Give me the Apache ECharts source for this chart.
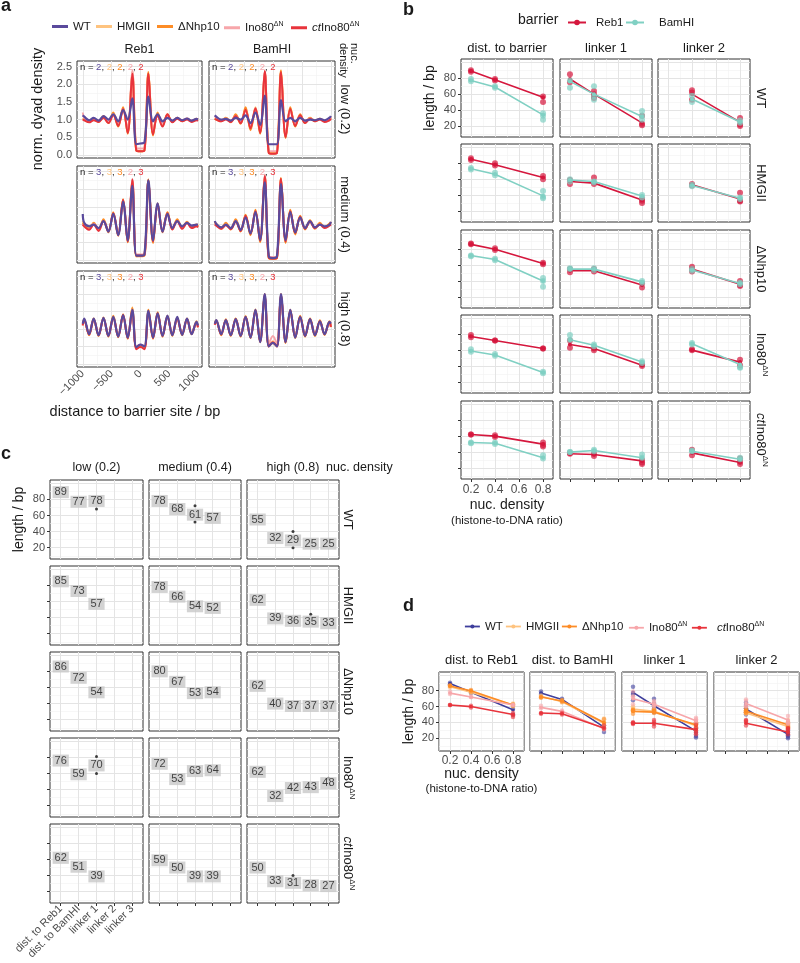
<!DOCTYPE html>
<html>
<head>
<meta charset="utf-8">
<script src="https://cdn.jsdelivr.net/npm/echarts@6/dist/echarts.min.js"></script>
<style>html,body{margin:0;padding:0;background:#fff}#chart{width:800px;height:963px}</style>
</head>
<body>
<div id="chart"></div>
<script>
// ===================== DATA =====================
const genotypes = ['WT', 'HMGII', 'ΔNhp10', 'Ino80ΔN', 'ctIno80ΔN'];

// ---- panel a: dyad density profiles (positions in bp) ----
const aX = [-1000,-975,-890,-810,-725,-640,-555,-470,-385,-300,-220,-140,-70,0,70,140,220,300,385,470,555,640,725,810,890,975,1000];
const aTicksX = [-1000, -500, 0, 500, 1000];
const aTicksY = [0, 0.5, 1, 1.5, 2, 2.5];
// order of inner arrays: WT, HMGII, ΔNhp10, Ino80ΔN, ctIno80ΔN
const aReb1Low = [
  [1.12,1.08,0.98,1.05,0.97,1.10,1.00,1.15,0.95,1.27,1.00,1.60,0.30,0.32,0.35,1.65,0.95,1.15,0.95,1.05,0.97,1.05,0.98,1.03,0.97,1.02,1.00],
  [1.05,1.02,0.95,1.00,0.95,1.08,0.95,1.15,0.85,1.30,0.65,2.25,0.15,0.10,0.15,2.30,0.60,1.15,0.85,1.12,0.95,1.05,0.97,1.02,0.95,1.00,0.98],
  [1.02,1.00,0.93,1.02,0.93,1.10,0.90,1.20,0.80,1.35,0.60,2.35,0.12,0.10,0.12,2.35,0.55,1.20,0.82,1.15,0.93,1.05,0.95,1.02,0.95,1.02,1.00],
  [1.20,1.05,0.97,1.02,0.97,1.08,0.95,1.15,0.90,1.30,0.70,2.40,0.20,0.18,0.20,2.20,0.65,1.10,0.88,1.10,0.96,1.05,0.98,1.03,0.97,1.00,1.00],
  [1.00,0.98,0.92,0.98,0.93,1.05,0.90,1.12,0.82,1.30,0.62,2.30,0.12,0.10,0.12,2.30,0.58,1.12,0.80,1.15,0.92,1.02,0.95,1.00,0.93,0.98,0.96]
];
const aBamLow = [
  [1.12,1.08,1.00,1.02,0.97,1.05,1.00,1.12,0.90,1.20,0.85,1.68,0.30,0.30,0.30,1.55,0.95,1.05,0.95,1.05,0.97,1.00,0.98,1.02,0.98,1.05,1.10],
  [1.05,1.03,0.97,1.05,0.95,1.12,0.90,1.30,0.75,1.35,0.65,2.30,0.08,0.05,0.08,2.35,0.50,1.30,0.85,1.10,0.93,1.05,0.97,1.02,0.95,1.02,1.05],
  [1.03,1.00,0.95,1.05,0.92,1.15,0.88,1.35,0.70,1.30,0.60,2.35,0.06,0.04,0.06,2.40,0.48,1.35,0.80,1.15,0.90,1.05,0.95,1.02,0.95,1.00,1.05],
  [1.10,1.05,0.98,1.03,0.96,1.10,0.93,1.25,0.80,1.30,0.70,2.38,0.12,0.10,0.12,2.25,0.55,1.25,0.88,1.10,0.95,1.03,0.97,1.00,0.97,1.00,1.08],
  [1.02,1.00,0.95,1.00,0.93,1.10,0.90,1.28,0.75,1.32,0.62,2.38,0.05,0.03,0.05,2.35,0.50,1.30,0.82,1.12,0.90,1.02,0.95,1.00,0.93,0.98,1.02]
];
const aReb1Med = [
  [1.30,1.05,0.95,1.00,0.90,1.10,0.80,1.30,0.70,1.65,0.55,2.10,0.12,0.12,0.15,2.25,0.55,1.60,0.80,1.30,0.90,1.10,0.95,1.05,0.97,1.00,1.00],
  [1.10,1.00,0.90,1.00,0.88,1.12,0.82,1.30,0.72,1.70,0.50,2.20,0.10,0.12,0.12,2.28,0.50,1.55,0.82,1.35,0.88,1.12,0.92,1.05,0.95,0.98,0.95],
  [1.05,1.00,0.88,1.05,0.85,1.15,0.78,1.35,0.68,1.72,0.50,2.25,0.10,0.10,0.12,2.28,0.48,1.60,0.78,1.35,0.87,1.15,0.90,1.08,0.93,1.00,0.95],
  [1.00,0.95,0.85,1.02,0.88,1.10,0.82,1.30,0.72,1.68,0.55,2.30,0.15,0.15,0.15,2.20,0.55,1.55,0.85,1.30,0.90,1.10,0.88,1.05,0.90,0.95,0.92],
  [1.00,0.95,0.85,1.00,0.82,1.10,0.80,1.32,0.70,1.70,0.52,2.28,0.12,0.12,0.14,2.25,0.52,1.58,0.80,1.32,0.86,1.10,0.88,1.05,0.90,0.95,0.92]
];
const aBamMed = [
  [1.10,1.02,0.92,1.00,0.90,1.10,0.85,1.20,0.75,1.35,0.56,2.20,0.10,0.05,0.10,2.15,0.56,1.35,0.78,1.20,0.90,1.10,0.92,1.00,0.95,1.00,1.08],
  [1.05,1.00,0.90,1.02,0.88,1.12,0.82,1.25,0.72,1.40,0.52,2.35,0.05,0.03,0.05,2.30,0.50,1.40,0.75,1.22,0.88,1.10,0.90,1.02,0.93,1.02,1.05],
  [1.08,1.02,0.88,1.05,0.86,1.15,0.80,1.28,0.70,1.42,0.50,2.38,0.05,0.03,0.05,2.32,0.48,1.42,0.72,1.25,0.86,1.12,0.88,1.05,0.92,1.03,1.07],
  [1.02,0.98,0.90,1.00,0.90,1.10,0.85,1.22,0.78,1.35,0.58,2.42,0.10,0.08,0.10,2.25,0.55,1.35,0.80,1.20,0.90,1.08,0.90,1.00,0.92,0.98,1.02],
  [1.00,0.97,0.88,0.98,0.87,1.08,0.82,1.25,0.74,1.38,0.54,2.38,0.06,0.04,0.06,2.30,0.52,1.38,0.76,1.22,0.88,1.08,0.90,1.00,0.90,0.97,1.00]
];
const aReb1High = [
  [1.15,1.30,0.85,1.30,0.82,1.32,0.80,1.35,0.78,1.40,0.75,1.55,0.48,0.55,0.50,1.52,0.75,1.45,0.80,1.38,0.82,1.35,0.83,1.30,0.85,1.20,1.10],
  [1.10,1.25,0.85,1.28,0.83,1.30,0.82,1.35,0.80,1.38,0.75,1.62,0.45,0.52,0.48,1.55,0.75,1.45,0.82,1.35,0.85,1.30,0.85,1.28,0.88,1.18,1.05],
  [1.12,1.28,0.82,1.30,0.80,1.33,0.78,1.38,0.76,1.42,0.72,1.60,0.45,0.50,0.45,1.55,0.72,1.48,0.78,1.38,0.80,1.33,0.82,1.30,0.85,1.22,1.05],
  [1.10,1.25,0.85,1.28,0.85,1.30,0.82,1.32,0.80,1.38,0.76,1.55,0.50,0.55,0.50,1.50,0.76,1.42,0.82,1.35,0.85,1.30,0.86,1.28,0.88,1.18,1.05],
  [1.10,1.26,0.84,1.28,0.82,1.30,0.80,1.33,0.78,1.40,0.74,1.52,0.42,0.48,0.42,1.50,0.74,1.45,0.80,1.36,0.83,1.30,0.85,1.28,0.86,1.18,1.05]
];
const aBamHigh = [
  [1.15,1.25,0.85,1.25,0.82,1.28,0.80,1.35,0.75,1.55,0.62,2.00,0.50,0.60,0.50,2.00,0.62,1.55,0.75,1.35,0.80,1.28,0.82,1.22,0.85,1.20,1.15],
  [1.12,1.22,0.85,1.25,0.82,1.30,0.80,1.38,0.75,1.55,0.65,1.98,0.52,0.65,0.52,1.97,0.63,1.52,0.76,1.35,0.80,1.30,0.83,1.22,0.86,1.20,1.08],
  [1.18,1.25,0.82,1.28,0.80,1.30,0.78,1.36,0.74,1.56,0.62,2.00,0.50,0.60,0.50,2.00,0.60,1.55,0.74,1.38,0.78,1.30,0.80,1.25,0.83,1.22,1.05],
  [1.12,1.22,0.86,1.24,0.84,1.27,0.82,1.33,0.78,1.50,0.66,1.95,0.58,0.80,0.58,1.95,0.66,1.50,0.78,1.32,0.82,1.27,0.85,1.20,0.87,1.18,1.08],
  [1.12,1.23,0.84,1.25,0.82,1.28,0.80,1.35,0.76,1.53,0.63,1.98,0.50,0.62,0.50,1.98,0.62,1.53,0.76,1.35,0.80,1.28,0.83,1.22,0.85,1.20,1.06]
];
const aNLow = [2, 2, 2, 2, 2];
const aNMed = [3, 3, 3, 2, 3];
const aNHigh = [3, 3, 3, 2, 3];

// ---- panel b: lengths vs nucleosome density, per barrier ----
const bDens = [0.2, 0.4, 0.8];
const bDensL2 = [0.4, 0.8];
const bTicksX = [0.2, 0.4, 0.6, 0.8];
const lenTicks = [20, 40, 60, 80];
const bDistReb1 = [[89,78,56],[85,78,62],[86,80,62],[77,72,62],[62,60,50]];
const bDistBam  = [[77,69,34],[73,66,39],[72,67,40],[59,54,32],[52,51,33]];
const bL1Reb1   = [[79,60,24],[57,55,34],[53,53,35],[67,62,41],[38,37,29]];
const bL1Bam    = [[76,60,32],[59,57,39],[55,55,39],[73,66,45],[40,42,33]];
const bL2Reb1   = [[60,25],[53,35],[55,36],[60,45],[39,27]];
const bL2Bam    = [[54,25],[52,36],[54,37],[68,42],[41,31]];
const bDistReb1Reps = [
  [[90,88],[79,77],[57,50]], [[86,84],[80,77],[64,60]], [[87,86],[81,79],[63,61]],
  [[79,76],[72,72],[62,62]], [[62,62],[61,59],[52,49,47]]];
const bDistBamReps = [
  [[79,76],[70,68],[36,33,28]], [[74,72],[68,65],[45,38,36]], [[72,71],[68,66],[44,40,33]],
  [[61,58],[55,53],[33,31]], [[52,51],[52,50],[36,32]]];
const bL1Reb1Reps = [
  [[85,75],[64,60,57,55],[33,23,21]], [[59,54],[62,54],[35,33,30]], [[55,51],[55,52],[37,32]],
  [[72,63],[62,60],[42,40]], [[39,38],[38,35],[30,27,25]]];
const bL1BamReps = [
  [[77,68],[70,57,53],[39,33,28]], [[60,57],[57,56],[40,37]], [[56,55],[56,54],[40,38]],
  [[79,73],[67,65],[46,44]], [[40,40],[43,41],[37,33]]];
const bL2Reb1Reps = [
  [[65,62,53],[30,22,20]], [[54,52],[43,33,32]], [[58,55,52],[40,35,34]],
  [[61,60],[48,41]], [[43,36],[32,28,25]]];
const bL2BamReps = [
  [[58,50],[27,24]], [[53,51],[37,35]], [[55,53],[38,36]],
  [[69,67],[39,38]], [[42,41],[33,31]]];

// ---- panel c: labelled lengths ----
const cCats = ['dist. to Reb1', 'dist. to BamHI', 'linker 1', 'linker 2', 'linker 3'];
const cLow  = [[89,77,78],[85,73,57],[86,72,54],[76,59,70],[62,51,39]];
const cMed  = [[78,68,61,57],[78,66,54,52],[80,67,53,54],[72,53,63,64],[59,50,39,39]];
const cHigh = [[55,32,29,25,25],[62,39,36,35,33],[62,40,37,37,37],[62,32,42,43,48],[50,33,31,28,27]];
// small range points: [genotype, density column, category, value]
const cRangeDots = [[0,0,3,68],[0,1,3,72],[0,1,3,52],[0,2,3,40],[0,2,3,20],[1,2,4,44],[3,0,3,81],[3,0,3,60],[3,2,5,54],[4,2,3,40]];

// ===================== STYLE / LAYOUT =====================
const FONT = '"Liberation Sans", Arial, Helvetica, sans-serif';
const TXT = '#1a1a1a', AXC = '#4d4d4d';
const aColors = ['#5a4a9c', '#fec37f', '#fd8c26', '#f7a6aa', '#e8343c'];
const dColors = ['#3e3e9c', '#fec37f', '#fd8c26', '#f7a6aa', '#e8343c'];
const bColors = { Reb1: '#d5173d', BamHI: '#80d0c3' };

const grids = [], xAxes = [], yAxes = [], series = [], graphics = [], legends = [];

function mkAxis(min, max, ticks, showLabels, fmt, extra) {
  const ax = {
    type: 'value', min: min, max: max,
    axisLine: { show: false },
    splitLine: { show: false },
    minorSplitLine: { show: false },
    axisPointer: { show: false },
    axisTick: { show: !!ticks, length: 3, lineStyle: { color: '#333', width: 1 } },
    axisLabel: { show: !!(ticks && showLabels), formatter: fmt, color: AXC, fontSize: 11, fontFamily: FONT, margin: 5 }
  };
  if (ticks) { ax.axisTick.customValues = ticks; ax.axisLabel.customValues = ticks; }
  if (extra) Object.assign(ax.axisLabel, extra);
  return ax;
}
function addGrid(left, top, width, height, xa, ya) {
  const gi = grids.length;
  grids.push({ left, top, width, height, show: true, borderColor: '#333', borderWidth: 1, backgroundColor: '#fff', containLabel: false });
  xa.gridIndex = gi; ya.gridIndex = gi;
  xAxes.push(xa); yAxes.push(ya);
  return gi;
}
function gridLines(gi, xMaj, xMin, yMaj, yMin) {
  const d = [];
  const minor = { color: '#f1f1f1', width: 0.6, type: 'solid' };
  const major = { color: '#e4e4e4', width: 1, type: 'solid' };
  xMin.forEach(v => d.push({ xAxis: v, lineStyle: minor }));
  yMin.forEach(v => d.push({ yAxis: v, lineStyle: minor }));
  xMaj.forEach(v => d.push({ xAxis: v, lineStyle: major }));
  yMaj.forEach(v => d.push({ yAxis: v, lineStyle: major }));
  series.push({ type: 'line', name: '_grid', xAxisIndex: gi, yAxisIndex: gi, data: [], silent: true, z: 1,
    markLine: { z: 1, silent: true, symbol: ['none', 'none'], label: { show: false }, emphasis: { disabled: true }, animation: false, precision: 6, data: d } });
}
function T(x, y, text, o) {
  o = o || {};
  graphics.push({ type: 'text', x, y, rotation: o.rot || 0, z: 100, silent: true,
    style: { text, fill: o.color || TXT, fontSize: o.size || 13, fontFamily: FONT, fontWeight: o.weight || 'normal',
      align: o.align || 'center', verticalAlign: o.va || 'middle', lineHeight: o.lh, rich: o.rich } });
}
const RICH = (size) => ({
  n: { fontSize: size, fontFamily: FONT, fill: TXT, color: TXT, lineHeight: size + 3 },
  i: { fontSize: size, fontFamily: FONT, fontStyle: 'italic', fill: TXT, color: TXT, lineHeight: size + 3 },
  s: { fontSize: Math.round(size * 0.6), fontFamily: FONT, fill: TXT, color: TXT, verticalAlign: 'top', lineHeight: Math.round(size * 0.6) + 1 }
});
function genoLabel(g) {
  if (g === 3) return '{n|Ino80}{s|ΔN}';
  if (g === 4) return '{i|ct}{n|Ino80}{s|ΔN}';
  return '{n|' + genotypes[g] + '}';
}
const fmtMinus = v => (v < 0 ? '\u2212' + (-v) : String(v));

// ===================== PANEL a =====================
T(1, 6, 'a', { size: 18, weight: 'bold', align: 'left' });
const aCols = [{ left: 77, w: 125 }, { left: 209, w: 126 }];
const aRows = [{ top: 61, h: 97 }, { top: 166, h: 97 }, { top: 271, h: 96 }];
const aData = [[aReb1Low, aBamLow], [aReb1Med, aBamMed], [aReb1High, aBamHigh]];
const aN = [aNLow, aNMed, aNHigh];
const aDrawOrder = [1, 2, 3, 4, 0];
for (let r = 0; r < 3; r++) {
  for (let c = 0; c < 2; c++) {
    const xa = mkAxis(-1100, 1070, r === 2 ? aTicksX : null, r === 2 && c === 0, fmtMinus, { rotate: 45, margin: 5 });
    const ya = mkAxis(-0.09, 2.66, c === 0 ? aTicksY : null, r === 0 && c === 0, v => v.toFixed(1), { margin: 5 });
    const gi = addGrid(aCols[c].left, aRows[r].top, aCols[c].w, aRows[r].h, xa, ya);
    gridLines(gi, aTicksX, [-750, -250, 250, 750], aTicksY, [0.25, 0.75, 1.25, 1.75, 2.25]);
    aDrawOrder.forEach((g, k) => {
      series.push({ type: 'line', name: 'a:' + genotypes[g], xAxisIndex: gi, yAxisIndex: gi,
        data: aX.map((x, i) => [x, aData[r][c][g][i]]), smooth: 0.35, symbol: 'none',
        lineStyle: { color: aColors[g], width: g === 0 ? 2.2 : 2 }, itemStyle: { color: aColors[g] }, z: 3 + k, silent: true });
    });
    const rich = { k: { fill: TXT, color: TXT, fontSize: 9.5, fontFamily: FONT } };
    let s = '{k|n = }';
    aN[r].forEach((n, g) => {
      rich['c' + g] = { fill: aColors[g], color: aColors[g], fontSize: 9.5, fontFamily: FONT };
      s += '{c' + g + '|' + n + '}' + (g < 4 ? '{k|, }' : '');
    });
    T(aCols[c].left + 3, aRows[r].top + 6, s, { align: 'left', size: 9.5, rich });
  }
}
T(139.5, 50, 'Reb1', { size: 12.5 });
T(272, 50, 'BamHI', { size: 12.5 });
T(360, 43, 'nuc.\ndensity', { size: 11, rot: -Math.PI / 2, align: 'left', va: 'top', lh: 11 });
T(345, 109.5, 'low (0.2)', { rot: -Math.PI / 2 });
T(345, 214.5, 'medium (0.4)', { rot: -Math.PI / 2 });
T(345, 319, 'high (0.8)', { rot: -Math.PI / 2 });
T(38, 109, 'norm. dyad density', { size: 14.5, rot: Math.PI / 2 });
T(135, 412, 'distance to barrier site / bp', { size: 14.5 });
const aLegLeft = [52, 96, 157, 224, 291];
genotypes.forEach((name, g) => {
  legends.push({ data: ['a:' + name], left: aLegLeft[g], top: 20.5, icon: 'rect', itemWidth: 16, itemHeight: 3, padding: 0, itemGap: 0,
    selectedMode: false, formatter: () => genoLabel(g),
    textStyle: { fontSize: 11.5, color: TXT, fontFamily: FONT, rich: RICH(11.5) } });
});

// ===================== PANEL b =====================
T(403, 10.5, 'b', { size: 18, weight: 'bold', align: 'left' });
T(518, 20, 'barrier', { size: 14, align: 'left' });
legends.push({ data: ['Reb1'], left: 567, top: 16.5, itemWidth: 18, itemHeight: 7, padding: 0, itemGap: 0, selectedMode: false,
  lineStyle: { width: 2 }, textStyle: { fontSize: 11.5, color: TXT, fontFamily: FONT, padding: [0, 0, 0, 5] } });
legends.push({ data: ['BamHI'], left: 625, top: 16.5, itemWidth: 18, itemHeight: 7, padding: 0, itemGap: 0, selectedMode: false,
  lineStyle: { width: 2 }, textStyle: { fontSize: 11.5, color: TXT, fontFamily: FONT, padding: [0, 0, 0, 10] } });
const bColsL = [461, 560, 658], bW = 92;
const bRowsT = [59, 144, 230, 315, 401], bH = 78;
const bMetrics = [
  { xs: bDens, R: bDistReb1, B: bDistBam, RR: bDistReb1Reps, BR: bDistBamReps },
  { xs: bDens, R: bL1Reb1, B: bL1Bam, RR: bL1Reb1Reps, BR: bL1BamReps },
  { xs: bDensL2, R: bL2Reb1, B: bL2Bam, RR: bL2Reb1Reps, BR: bL2BamReps }
];
for (let g = 0; g < 5; g++) {
  for (let m = 0; m < 3; m++) {
    const xa = mkAxis(0.117, 0.883, g === 4 ? bTicksX : null, g === 4 && m === 0, v => v.toFixed(1), { fontSize: 12, margin: 5 });
    const ya = mkAxis(6.3, 104, m === 0 ? lenTicks : null, g === 0 && m === 0, v => String(v), { margin: 5 });
    const gi = addGrid(bColsL[m], bRowsT[g], bW, bH, xa, ya);
    gridLines(gi, bTicksX, [0.3, 0.5, 0.7], [20, 40, 60, 80, 100], [10, 30, 50, 70, 90]);
    const M = bMetrics[m];
    [['Reb1', M.R, M.RR], ['BamHI', M.B, M.BR]].forEach(([name, means, reps], k) => {
      const col = bColors[name];
      series.push({ type: 'scatter', name: '_pts', xAxisIndex: gi, yAxisIndex: gi, silent: true, z: 3 + k * 2,
        data: reps[g].flatMap((arr, i) => arr.map(v => [M.xs[i], v])), symbolSize: 6,
        itemStyle: { color: col, opacity: 0.7 } });
      series.push({ type: 'line', name, xAxisIndex: gi, yAxisIndex: gi, silent: true, z: 4 + k * 2,
        data: means[g].map((v, i) => [M.xs[i], v]), symbol: 'circle', symbolSize: 4,
        lineStyle: { color: col, width: 1.6 }, itemStyle: { color: col } });
    });
  }
}
T(507, 48, 'dist. to barrier');
T(606, 48, 'linker 1');
T(704, 48, 'linker 2');
const bRowMid = [98, 183, 269, 354.5, 440];
bRowMid.forEach((y, g) => {
  T(761, y, genoLabel(g), { rot: -Math.PI / 2, rich: RICH(13) });
});
T(430, 98, 'length / bp', { size: 14, rot: Math.PI / 2 });
T(507, 505, 'nuc. density', { size: 14 });
T(507, 521, '(histone-to-DNA ratio)', { size: 11.5 });

// ===================== PANEL c =====================
T(1, 454.5, 'c', { size: 18, weight: 'bold', align: 'left' });
const cColsL = [50, 149, 247], cWs = [93, 92, 92];
const cRowsT = [480, 566, 652, 738, 824], cH = 79;
const cAll = [cLow, cMed, cHigh];
for (let g = 0; g < 5; g++) {
  for (let d = 0; d < 3; d++) {
    const xa = mkAxis(0.4, 5.6, g === 4 ? [1, 2, 3, 4, 5] : null, g === 4 && d === 0, v => cCats[Math.round(v) - 1], { rotate: 45, margin: 4 });
    const ya = mkAxis(6, 104, d === 0 ? lenTicks : null, g === 0 && d === 0, v => String(v), { margin: 5 });
    const gi = addGrid(cColsL[d], cRowsT[g], cWs[d], cH, xa, ya);
    gridLines(gi, [1, 2, 3, 4, 5], [], [20, 40, 60, 80, 100], [10, 30, 50, 70, 90]);
    const dots = cRangeDots.filter(p => p[0] === g && p[1] === d).map(p => [p[2], p[3]]);
    if (dots.length) series.push({ type: 'scatter', name: '_dots', xAxisIndex: gi, yAxisIndex: gi, silent: true, z: 3,
      data: dots, symbolSize: 3, itemStyle: { color: '#111' } });
    series.push({ type: 'scatter', name: '_labels', xAxisIndex: gi, yAxisIndex: gi, silent: true, z: 4,
      data: cAll[d][g].map((v, i) => [i + 1, v]), symbolSize: 1, itemStyle: { color: 'rgba(0,0,0,0)' },
      label: { show: true, position: 'inside', formatter: p => String(p.value[1]), backgroundColor: '#c8c8c8',
        color: TXT, textBorderWidth: 0, textBorderColor: 'transparent', textShadowBlur: 0,
        fontSize: 11, fontFamily: FONT, padding: [1, 2, 0, 2], lineHeight: 11 } });
  }
}
T(96.5, 468, 'low (0.2)', { size: 12.5 });
T(195, 468, 'medium (0.4)', { size: 12.5 });
T(293, 468, 'high (0.8)', { size: 12.5 });
T(326, 468, 'nuc. density', { size: 12.5, align: 'left' });
const cRowMid = [519.5, 605.5, 691.5, 777.5, 863.5];
cRowMid.forEach((y, g) => T(348, y, genoLabel(g), { rot: -Math.PI / 2, rich: RICH(13) }));
T(19, 519.5, 'length / bp', { size: 14, rot: Math.PI / 2 });

// ===================== PANEL d =====================
T(403, 606.5, 'd', { size: 18, weight: 'bold', align: 'left' });
const dLegLeft = [464, 505, 561, 628, 691];
const dLegPad = [0, 0, 0, 0, 5];
genotypes.forEach((name, g) => {
  legends.push({ data: ['d:' + name], left: dLegLeft[g], top: 620.5, itemWidth: 15, itemHeight: 5, padding: 0, itemGap: 0,
    selectedMode: false, formatter: () => genoLabel(g), lineStyle: { width: 1.8 },
    textStyle: { fontSize: 11.5, color: TXT, fontFamily: FONT, rich: RICH(11.5), padding: [0, 0, 0, dLegPad[g]] } });
});
const dColsL = [439, 530, 622, 714], dW = 85, dTop = 672, dH = 79;
const dFacets = [
  { xs: bDens, means: g => bDistReb1[g], reps: g => bDistReb1Reps[g] },
  { xs: bDens, means: g => bDistBam[g], reps: g => bDistBamReps[g] },
  { xs: bDens, means: g => [cLow[g][2], cMed[g][2], cHigh[g][2]], reps: g => bL1Reb1Reps[g].map((a, i) => a.concat(bL1BamReps[g][i])) },
  { xs: bDensL2, means: g => [cMed[g][3], cHigh[g][3]], reps: g => bL2Reb1Reps[g].map((a, i) => a.concat(bL2BamReps[g][i])) }
];
dFacets.forEach((F, f) => {
  const xa = mkAxis(0.095, 0.905, bTicksX, f === 0, v => v.toFixed(1), { fontSize: 12, margin: 4 });
  const ya = mkAxis(4, 103.6, f === 0 ? lenTicks : null, f === 0, v => String(v), { margin: 5 });
  const gi = addGrid(dColsL[f], dTop, dW, dH, xa, ya);
  gridLines(gi, bTicksX, [0.1, 0.3, 0.5, 0.7, 0.9], [20, 40, 60, 80, 100], [10, 30, 50, 70, 90]);
  genotypes.forEach((name, g) => {
    series.push({ type: 'scatter', name: '_dpts', xAxisIndex: gi, yAxisIndex: gi, silent: true, z: 3 + g * 2,
      data: F.reps(g).flatMap((arr, i) => arr.map(v => [F.xs[i], v])), symbolSize: 4.5,
      itemStyle: { color: dColors[g], opacity: 0.6 } });
    series.push({ type: 'line', name: 'd:' + name, xAxisIndex: gi, yAxisIndex: gi, silent: true, z: 4 + g * 2,
      data: F.means(g).map((v, i) => [F.xs[i], v]), symbol: 'circle', symbolSize: 3.5,
      lineStyle: { color: dColors[g], width: 1.6 }, itemStyle: { color: dColors[g] } });
  });
});
T(481.5, 660, 'dist. to Reb1');
T(572.5, 660, 'dist. to BamHI');
T(664.5, 660, 'linker 1');
T(756.5, 660, 'linker 2');
T(409, 711.5, 'length / bp', { size: 14, rot: Math.PI / 2 });
T(481.5, 774, 'nuc. density', { size: 14 });
T(481.5, 789, '(histone-to-DNA ratio)', { size: 11.5 });

// ===================== RENDER =====================
const chart = echarts.init(document.getElementById('chart'), null, { renderer: 'canvas', width: 800, height: 963 });
chart.setOption({
  animation: false,
  backgroundColor: '#ffffff',
  textStyle: { fontFamily: FONT },
  grid: grids, xAxis: xAxes, yAxis: yAxes, series: series, legend: legends,
  graphic: { elements: graphics }
});
</script>
</body>
</html>
